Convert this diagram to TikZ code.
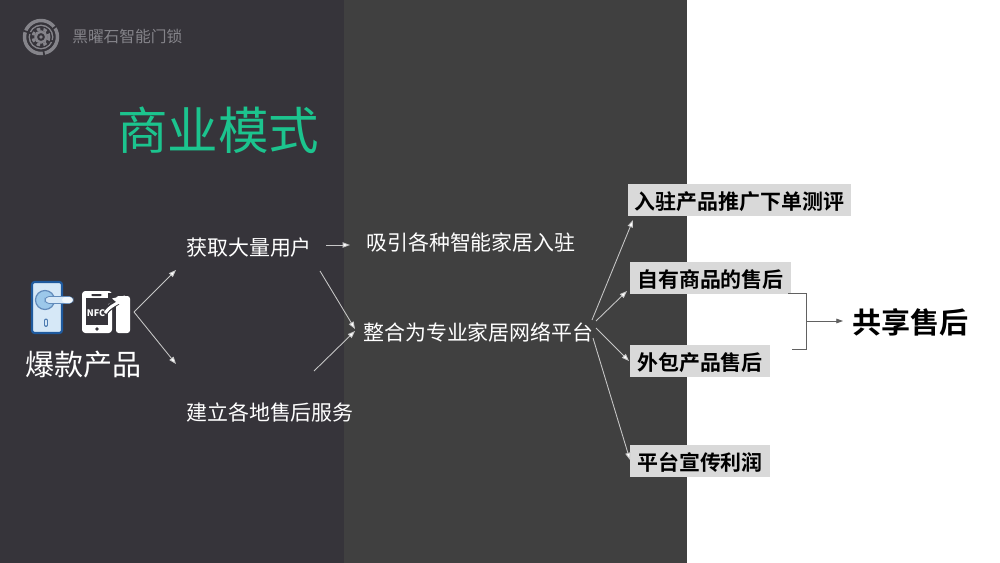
\documentclass[tikz,border=0pt]{standalone}
\usepackage{fontspec}
\setmainfont{Noto Sans CJK SC}
\newfontfamily\cjkbold{Noto Sans CJK SC Bold}
\newfontfamily\cjkblack{Noto Sans CJK SC Black}
\usetikzlibrary{arrows.meta}
\definecolor{leftbg}{HTML}{36343A}
\definecolor{midbg}{HTML}{404040}
\definecolor{titlegreen}{HTML}{1CC48E}
\definecolor{tagbg}{HTML}{D9D9D9}
\definecolor{logogrey}{HTML}{85848A}
\definecolor{lockblue}{HTML}{1F5A9E}
\definecolor{lockpale}{HTML}{D6E8F7}
\definecolor{knob}{HTML}{9CC8EA}
\tikzset{
  x=0.75pt,y=-0.75pt,
  txt/.style={inner sep=0pt,anchor=west,text=white,font=\fontsize{15.7}{18}\selectfont},
  tag/.style={fill=tagbg,inner sep=0pt,text=black,minimum height=24pt,text height=14pt,text depth=0.4pt,font=\cjkbold\fontsize{15.7}{18}\selectfont},
  link/.style={draw=white!78!black,line width=0.65pt,-{Triangle[length=5.5pt,width=4pt,fill=white]}},
  dlink/.style={draw=black!62,line width=0.6pt},
}
\begin{document}
\begin{tikzpicture}
\useasboundingbox (0,0) rectangle (1000,563);
\fill[white] (0,0) rectangle (1000,563);
\fill[leftbg] (0,0) rectangle (344,563);
\fill[midbg] (344,0) rectangle (687,563);
% logo
\begin{scope}[logogrey]
 \draw[line width=2.6pt] (41,37) circle (16.5);
 \draw[leftbg,line width=1.3pt] (41,37) -- ++(80:20) (41,37) -- ++(-160:20) (41,37) -- ++(-35:20);
 \draw[leftbg,line width=1.3pt] (41,37) circle (13.2);
 \draw[line width=1.2pt] (41,37) circle (11.6);
 \draw[leftbg,line width=1.4pt] (41,37) -- ++(20:14) (41,37) -- ++(200:14);
 \draw[leftbg,line width=1.3pt] (41,37) circle (10);
 \draw[line width=2.2pt,dash pattern=on 2.6pt off 2.4pt] (41,37) circle (8);
 \draw[line width=1.9pt] (41,37) circle (5.4);
 \fill (41,37) circle (1.8);
\end{scope}
\node[txt,text=logogrey,font=\fontsize{11.8}{14}\selectfont] (brand) at (72,37) {黑曜石智能门锁};
\node[txt,text=titlegreen,font=\fontsize{37.9}{42}\selectfont] (title) at (117,130) {商业模式};
% lock icon
\fill[lockpale,draw=lockblue,line width=1.6pt,rounded corners=2pt] (32,282) rectangle (62,333);
\fill[knob,draw=lockblue!70,line width=0.9pt] (45,300) circle (9.5);
\fill[lockpale,draw=lockblue!70,line width=0.6pt,rounded corners=3pt] (45,296.5) rectangle (73,303.5);
\fill[white!85!knob,rounded corners=2.5pt] (62,297) rectangle (73,303);
\draw[lockblue!80,line width=3pt,line cap=round] (46,320.5) -- (46,325);
\draw[lockpale,line width=0.8pt,line cap=round] (46,320.5) -- (46,325);
% NFC phone icon
\fill[white,rounded corners=2.5pt] (82,291) rectangle (112,333);
\fill[leftbg] (86,298) rectangle (108,325);
\fill[leftbg,rounded corners=1pt] (91,294) rectangle (102,296);
\fill[leftbg] (97,329) circle (1.8);
\fill[white,rounded corners=2pt] (116,296) -- (130,296) -- (130,333) -- (116,333) -- cycle;
\draw[leftbg,line width=4.6pt] (104,314) .. controls (108,307) and (114,304) .. (121,300);
\fill[leftbg] (108,293) -- (116,293) -- (116,300) -- (108,304) -- cycle;
\draw[white,line width=2.2pt] (105,313) .. controls (109,307) and (114,305) .. (119,302);
\fill[white] (112,298.5) -- (125,295.5) -- (123.5,308) -- cycle;
\node[inner sep=0pt,text=white,font=\cjkblack\fontsize{6.8}{8}\selectfont] (nfc) at (96,313) {NFC};
\node[txt,font=\fontsize{21.8}{26}\selectfont] (product) at (25,365) {爆款产品};
\coordinate (hub) at (134,312);
\node[txt] (users) at (186,248) {获取大量用户};
\node[txt] (after) at (186,413) {建立各地售后服务};
\node[txt] (attract) at (366,243) {吸引各种智能家居入驻};
\node[txt] (platform) at (363,332) {整合为专业家居网络平台};
\node[tag,minimum width=167.25pt] (t1) at (739.5,200) {入驻产品推广下单测评};
\node[tag,minimum width=120.75pt] (t2) at (710.5,278) {自有商品的售后};
\node[tag,minimum width=105pt] (t3) at (700,361) {外包产品售后};
\node[tag,minimum width=105pt] (t4) at (700,461) {平台宣传利润};
\node[txt,text=black,font=\cjkbold\fontsize{21.8}{26}\selectfont] (shared) at (852,322) {共享售后};
% arrows
\coordinate (u1) at (176,270);
\coordinate (u2) at (176,364);
\draw[link] (hub) -- (u1);
\draw[link] (hub) -- (u2);
\coordinate (a1) at (326,245); \coordinate (a2) at (350,245);
\draw[link] (a1) -- (a2);
\coordinate (b1) at (320,271); \coordinate (b2) at (355,329);
\draw[link] (b1) -- (b2);
\coordinate (c1) at (314,371); \coordinate (c2) at (355,331);
\draw[link] (c1) -- (c2);
\coordinate (d0) at (592,320); \coordinate (d1) at (633,220);
\draw[link] (d0) -- (d1);
\coordinate (e0) at (596,321); \coordinate (e1) at (627,291);
\draw[link] (e0) -- (e1);
\coordinate (f0) at (596,328); \coordinate (f1) at (629,361);
\draw[link] (f0) -- (f1);
\coordinate (g0) at (593,338); \coordinate (g1) at (630,460);
\draw[link] (g0) -- (g1);
% bracket
\coordinate (br1) at (788,293); \coordinate (br2) at (806,293);
\coordinate (br3) at (806,349); \coordinate (br4) at (792,349);
\coordinate (brm) at (806,321); \coordinate (bra) at (843,321);
\draw[dlink] (br1) -- (br2) -- (br3) -- (br4);
\draw[dlink,-{Triangle[length=5pt,width=3.5pt,fill=black!62]}] (brm) -- (bra);
\end{tikzpicture}
\end{document}
